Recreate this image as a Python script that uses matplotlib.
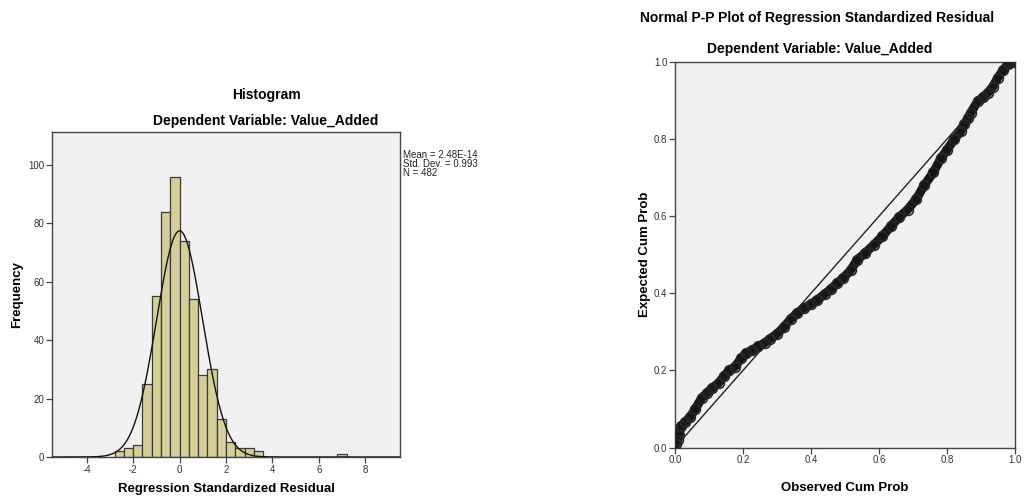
import numpy as np
import matplotlib
matplotlib.use("Agg")
import matplotlib.pyplot as plt

# ---------------- data ----------------
bin_left = [-2.8, -2.4, -2.0, -1.6, -1.2, -0.8, -0.4, 0.0, 0.4, 0.8, 1.2, 1.6,
            2.0, 2.4, 2.8, 3.2, 6.8]
bin_counts = [2, 3, 4, 25, 55, 84, 96, 74, 54, 28, 30, 13, 5, 3, 3, 2, 1]
bin_width = 0.4
res_mean = 2.48e-14
res_sd = 0.993
res_n = 482

hist_xticks = [-4, -2, 0, 2, 4, 6, 8]
hist_yticks = [0, 20, 40, 60, 80, 100]

pp_observed = [0.003, 0.008, 0.012, 0.018, 0.03, 0.045, 0.06, 0.078, 0.095, 0.11,
               0.128, 0.145, 0.16, 0.177, 0.195, 0.21, 0.226, 0.245, 0.265, 0.28,
               0.30, 0.32, 0.34, 0.36, 0.38, 0.40, 0.419, 0.44, 0.46, 0.477,
               0.495, 0.517, 0.536, 0.56, 0.585, 0.61, 0.635, 0.66, 0.684, 0.71,
               0.733, 0.76, 0.782, 0.80, 0.821, 0.84, 0.851, 0.862, 0.87, 0.89,
               0.905, 0.92, 0.935, 0.949, 0.965, 0.978, 0.99, 1.0]
pp_expected = [0.008, 0.02, 0.032, 0.056, 0.066, 0.08, 0.10, 0.128, 0.142, 0.155,
               0.167, 0.186, 0.20, 0.21, 0.232, 0.245, 0.252, 0.262, 0.272, 0.282,
               0.295, 0.312, 0.333, 0.349, 0.362, 0.372, 0.383, 0.398, 0.412, 0.426,
               0.44, 0.46, 0.487, 0.505, 0.526, 0.548, 0.574, 0.598, 0.617, 0.645,
               0.68, 0.714, 0.75, 0.772, 0.799, 0.82, 0.838, 0.855, 0.868, 0.898,
               0.908, 0.92, 0.936, 0.959, 0.978, 0.994, 0.999, 1.0]
pp_ticks = [0.0, 0.2, 0.4, 0.6, 0.8, 1.0]

# ---------------- style ----------------
plt.rcParams['font.family'] = ['Liberation Sans', 'DejaVu Sans']
plt.rcParams['axes.unicode_minus'] = False
W, H = 1026, 500
fig = plt.figure(figsize=(W / 100, H / 100), dpi=100)
fig.patch.set_facecolor('white')

AX_BG = '#f0f0f0'
FRAME = '#444444'
TICKC = '#333333'
TITLE_FS = 10
LABEL_FS = 9.5


def px_axes(l, t, r, b):
    return fig.add_axes([l / W, 1 - b / H, (r - l) / W, (b - t) / H])


def style_axes(ax):
    ax.set_facecolor(AX_BG)
    for s in ax.spines.values():
        s.set_color(FRAME)
        s.set_linewidth(1.0)
    ax.tick_params(direction='out', length=4, width=0.9, color=FRAME,
                   labelsize=7, labelcolor=TICKC, pad=1.5)


# ---------------- histogram ----------------
ax1 = px_axes(52, 132, 400, 457)
style_axes(ax1)
ax1.bar(bin_left, bin_counts, width=bin_width, align='edge',
        color='#d4cf98', edgecolor='#3a3a3a', linewidth=0.9, zorder=2)
xs = np.linspace(-5.5, 9.5, 600)
ys = res_n * bin_width / (res_sd * np.sqrt(2 * np.pi)) * np.exp(-0.5 * ((xs - res_mean) / res_sd) ** 2)
ax1.plot(xs, ys, color='#111111', lw=1.0, zorder=3)
ax1.set_xlim(-5.5, 9.5)
ax1.set_ylim(0, 111.3)
ax1.set_xticks(hist_xticks)
ax1.set_yticks(hist_yticks)
ax1.set_xlabel('Regression Standardized Residual', fontsize=LABEL_FS, fontweight='bold', labelpad=6)
ax1.set_ylabel('Frequency', fontsize=LABEL_FS, fontweight='bold', labelpad=4)

fig.text(266 / W, 1 - 95 / H, 'Histogram', ha='center', va='center',
         fontsize=TITLE_FS, fontweight='bold')
fig.text(266 / W, 1 - 121 / H, 'Dependent Variable: Value_Added', ha='center',
         va='center', fontsize=TITLE_FS, fontweight='bold')
fig.text(403 / W, 1 - 150 / H,
         'Mean = 2.48E-14\nStd. Dev. = 0.993\nN = 482',
         ha='left', va='top', fontsize=7, color='#222222', linespacing=0.9)

# ---------------- P-P plot ----------------
ax2 = px_axes(675, 62, 1015, 447.5)
style_axes(ax2)
ax2.plot([0, 1], [0, 1], color='#222222', lw=1.0, zorder=2)
ax2.plot(pp_observed, pp_expected, color='#161616', lw=6.5, solid_capstyle='round',
         zorder=3)
ax2.plot(pp_observed, pp_expected, linestyle='none', marker='o', markersize=7,
         markerfacecolor='none', markeredgecolor='#262626', markeredgewidth=1.2,
         zorder=4)
ax2.set_xlim(0, 1)
ax2.set_ylim(0, 1)
ax2.set_xticks(pp_ticks)
ax2.set_yticks(pp_ticks)
ax2.xaxis.set_major_formatter(matplotlib.ticker.FormatStrFormatter('%.1f'))
ax2.yaxis.set_major_formatter(matplotlib.ticker.FormatStrFormatter('%.1f'))
ax2.set_xlabel('Observed Cum Prob', fontsize=LABEL_FS, fontweight='bold', labelpad=12)
ax2.set_ylabel('Expected Cum Prob', fontsize=LABEL_FS, fontweight='bold', labelpad=2)

fig.text(817 / W, 1 - 18 / H, 'Normal P-P Plot of Regression Standardized Residual',
         ha='center', va='center', fontsize=TITLE_FS, fontweight='bold')
fig.text(820 / W, 1 - 49 / H, 'Dependent Variable: Value_Added', ha='center',
         va='center', fontsize=TITLE_FS, fontweight='bold')

fig.savefig('out.png', dpi=100, facecolor='white')
